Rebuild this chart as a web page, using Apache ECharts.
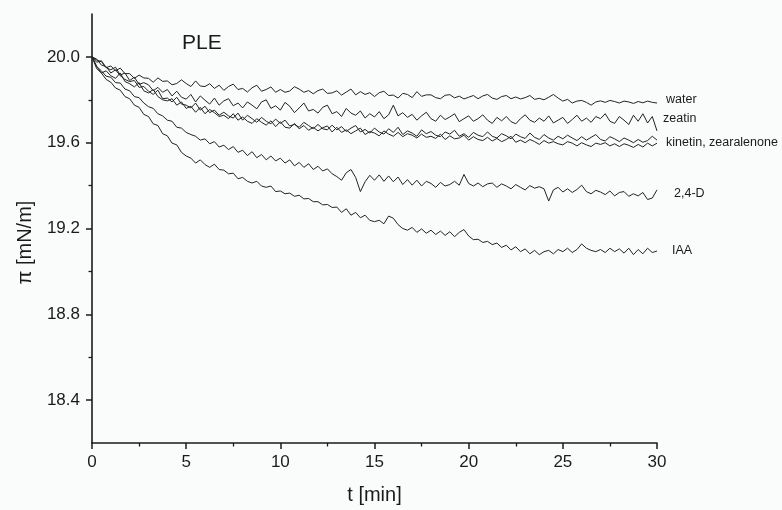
<!DOCTYPE html>
<html>
<head>
<meta charset="utf-8">
<script src="https://cdn.jsdelivr.net/npm/echarts@6/dist/echarts.min.js"></script>
<style>
html,body{margin:0;padding:0;background:#fafcfc;}
#chart{width:782px;height:510px;}
</style>
</head>
<body>
<div id="chart"></div>
<script>
// time axis (min)
const times = [0,0.25,0.5,0.75,1,1.25,1.5,1.75,2,2.25,2.5,2.75,3,3.25,3.5,3.75,4,4.25,4.5,4.75,
5,5.25,5.5,5.75,6,6.25,6.5,6.75,7,7.25,7.5,7.75,8,8.25,8.5,8.75,9,9.25,9.5,9.75,
10,10.25,10.5,10.75,11,11.25,11.5,11.75,12,12.25,12.5,12.75,13,13.25,13.5,13.75,14,14.25,14.5,14.75,
15,15.25,15.5,15.75,16,16.25,16.5,16.75,17,17.25,17.5,17.75,18,18.25,18.5,18.75,19,19.25,19.5,19.75,
20,20.25,20.5,20.75,21,21.25,21.5,21.75,22,22.25,22.5,22.75,23,23.25,23.5,23.75,24,24.25,24.5,24.75,
25,25.25,25.5,25.75,26,26.25,26.5,26.75,27,27.25,27.5,27.75,28,28.25,28.5,28.75,29,29.25,29.5,29.75,30];

const water = [20.000,19.985,19.978,19.950, 19.958,19.935,19.948,19.922, 19.922,19.900,19.915,19.902, 19.900,19.882,19.902,19.886,
19.888,19.870,19.876,19.893, 19.876,19.862,19.888,19.864, 19.862,19.875,19.853,19.868, 19.844,19.862,19.873,19.848,
19.853,19.836,19.856,19.868, 19.840,19.848,19.860,19.835, 19.848,19.835,19.841,19.861, 19.850,19.835,19.843,19.828,
19.843,19.850,19.830,19.832, 19.842,19.822,19.836,19.850, 19.823,19.838,19.825,19.833, 19.815,19.833,19.840,19.820,
19.822,19.808,19.830,19.825, 19.810,19.838,19.816,19.823, 19.823,19.810,19.805,19.821, 19.824,19.809,19.817,19.804,
19.812,19.820,19.805,19.818, 19.825,19.808,19.802,19.815, 19.820,19.805,19.813,19.804, 19.810,19.820,19.802,19.807,
19.800,19.812,19.825,19.808, 19.794,19.802,19.785,19.794, 19.797,19.788,19.775,19.790, 19.795,19.788,19.797,19.792,
19.785,19.794,19.790,19.783, 19.792,19.786,19.794,19.788, 19.785];

const zeatin = [20.000,19.975,19.982,19.950, 19.940,19.952,19.915,19.925, 19.890,19.905,19.872,19.880, 19.870,19.842,19.858,19.835,
19.848,19.818,19.840,19.812, 19.803,19.825,19.790,19.818, 19.798,19.780,19.808,19.775, 19.795,19.805,19.772,19.785,
19.762,19.790,19.775,19.758, 19.790,19.800,19.760,19.772, 19.752,19.788,19.770,19.740, 19.762,19.785,19.748,19.755,
19.738,19.765,19.775,19.735, 19.745,19.722,19.760,19.738, 19.728,19.748,19.715,19.735, 19.720,19.745,19.712,19.730,
19.775,19.725,19.740,19.718, 19.732,19.705,19.725,19.742, 19.712,19.700,19.728,19.708, 19.720,19.735,19.698,19.712,
19.725,19.700,19.712,19.730, 19.705,19.690,19.718,19.702, 19.722,19.698,19.688,19.712, 19.730,19.705,19.695,19.715,
19.700,19.725,19.692,19.705, 19.718,19.690,19.708,19.728, 19.700,19.715,19.695,19.722, 19.712,19.735,19.700,19.690,
19.722,19.705,19.685,19.728, 19.700,19.735,19.692,19.722, 19.655];

const kinetin = [20.000,19.990,19.962,19.955, 19.925,19.940,19.912,19.895, 19.885,19.890,19.858,19.862, 19.840,19.825,19.845,19.805,
19.808,19.790,19.812,19.780, 19.775,19.762,19.785,19.752, 19.770,19.740,19.752,19.728, 19.742,19.725,19.715,19.738,
19.705,19.728,19.712,19.695, 19.718,19.700,19.688,19.710, 19.690,19.705,19.678,19.685, 19.672,19.695,19.680,19.665,
19.685,19.665,19.660,19.682, 19.660,19.675,19.652,19.668, 19.680,19.650,19.662,19.645, 19.668,19.650,19.640,19.665,
19.648,19.672,19.638,19.655, 19.645,19.630,19.660,19.642, 19.652,19.635,19.628,19.650, 19.640,19.658,19.630,19.642,
19.625,19.648,19.635,19.628, 19.650,19.630,19.622,19.642, 19.632,19.618,19.640,19.628, 19.620,19.645,19.625,19.615,
19.638,19.622,19.612,19.630, 19.618,19.635,19.622,19.610, 19.628,19.612,19.625,19.638, 19.615,19.608,19.628,19.618,
19.605,19.622,19.612,19.600, 19.615,19.602,19.610,19.630, 19.612];

const zearalenone = [20.000,19.955,19.925,19.935, 19.912,19.900,19.925,19.885, 19.875,19.860,19.880,19.842, 19.832,19.848,19.815,19.800,
19.795,19.805,19.775,19.790, 19.760,19.770,19.742,19.765, 19.735,19.755,19.740,19.722, 19.728,19.712,19.735,19.705,
19.720,19.700,19.690,19.712, 19.695,19.682,19.702,19.675, 19.698,19.672,19.668,19.690, 19.665,19.680,19.658,19.672,
19.655,19.670,19.678,19.650, 19.672,19.648,19.660,19.642, 19.655,19.668,19.638,19.652, 19.645,19.632,19.655,19.640,
19.630,19.648,19.628,19.642, 19.635,19.622,19.640,19.625, 19.630,19.620,19.640,19.615, 19.632,19.618,19.622,19.635,
19.612,19.628,19.615,19.610, 19.625,19.608,19.620,19.605, 19.615,19.630,19.602,19.612, 19.600,19.615,19.605,19.592,
19.610,19.598,19.605,19.595, 19.590,19.605,19.598,19.585, 19.600,19.590,19.582,19.598, 19.592,19.600,19.585,19.595,
19.582,19.595,19.588,19.578, 19.592,19.580,19.598,19.585, 19.598];

const d24 = [20.000,19.955,19.935,19.910, 19.905,19.880,19.878,19.850, 19.842,19.815,19.810,19.785, 19.768,19.760,19.735,19.725,
19.705,19.700,19.672,19.668, 19.648,19.638,19.630,19.612, 19.618,19.595,19.605,19.580, 19.588,19.568,19.582,19.555,
19.565,19.540,19.558,19.530, 19.545,19.520,19.538,19.515, 19.528,19.505,19.520,19.492, 19.508,19.485,19.502,19.475,
19.490,19.468,19.478,19.455, 19.442,19.425,19.460,19.475, 19.438,19.372,19.418,19.448, 19.425,19.450,19.420,19.445,
19.418,19.440,19.405,19.428, 19.402,19.425,19.398,19.420, 19.410,19.392,19.415,19.398, 19.405,19.420,19.402,19.452,
19.410,19.398,19.412,19.395, 19.408,19.412,19.392,19.408, 19.398,19.385,19.405,19.392, 19.380,19.400,19.388,19.395,
19.385,19.328,19.380,19.392, 19.370,19.385,19.368,19.382, 19.402,19.372,19.362,19.378, 19.370,19.358,19.375,19.352,
19.368,19.372,19.350,19.362, 19.352,19.368,19.335,19.342, 19.380];

const iaa = [20.000,19.945,19.925,19.895, 19.882,19.855,19.845,19.815, 19.805,19.775,19.765,19.732, 19.722,19.688,19.680,19.642,
19.632,19.598,19.590,19.555, 19.538,19.528,19.505,19.520, 19.498,19.485,19.500,19.475, 19.472,19.455,19.458,19.432,
19.438,19.420,19.412,19.420, 19.398,19.392,19.398,19.372, 19.375,19.362,19.365,19.350, 19.355,19.338,19.340,19.325,
19.325,19.310,19.312,19.298, 19.300,19.275,19.292,19.262, 19.275,19.250,19.262,19.238, 19.232,19.238,19.222,19.258,
19.248,19.218,19.200,19.192, 19.205,19.182,19.198,19.178, 19.192,19.172,19.188,19.168, 19.185,19.162,19.182,19.195,
19.165,19.148,19.150,19.135, 19.140,19.125,19.132,19.112, 19.122,19.100,19.115,19.092, 19.105,19.082,19.098,19.078,
19.092,19.098,19.082,19.102, 19.092,19.108,19.088,19.102, 19.128,19.108,19.098,19.092, 19.102,19.088,19.108,19.092,
19.105,19.085,19.108,19.078, 19.102,19.082,19.108,19.088, 19.095];

const yMajorTicks = [18.4, 18.8, 19.2, 19.6, 20.0];
const yMinorTicks = [18.6, 19.0, 19.4, 19.8];
const xMajorTicks = [0, 5, 10, 15, 20, 25, 30];
const xMinorTicks = [2.5, 7.5, 12.5, 17.5, 22.5, 27.5];

const FONT = '"Liberation Sans", Arial, sans-serif';
const INK = '#1a1a1a';

function pairs(vals){ return vals.map((v,i)=>[times[i], v]); }

function mk(name, vals, label, off, dist){
  const s = {
    name: name, type: 'line', data: pairs(vals), showSymbol: false, symbol: 'none',
    lineStyle: {color: '#222', width: 1}, xAxisIndex: 0, yAxisIndex: 0,
    emphasis: {disabled: true}, silent: true
  };
  if (label) {
    s.endLabel = {show: true, formatter: label, offset: off, distance: dist,
      color: INK, fontFamily: FONT, fontSize: 12.5};
  }
  return s;
}

const chart = echarts.init(document.getElementById('chart'), null, {renderer: 'canvas'});
chart.setOption({
  backgroundColor: '#fafcfc',
  animation: false,
  title: {text: 'PLE', left: 177, top: 28,
    textStyle: {fontFamily: FONT, fontSize: 21, fontWeight: 'normal', color: INK}},
  grid: {left: 92, right: 125, top: 14, bottom: 65},
  xAxis: [{
    type: 'value', min: 0, max: 30,
    name: 't [min]', nameLocation: 'middle', nameGap: 42,
    nameTextStyle: {fontFamily: FONT, fontSize: 20, color: INK},
    axisLine: {lineStyle: {color: INK, width: 1.6}},
    axisTick: {customValues: xMajorTicks, length: 6, lineStyle: {color: INK, width: 1.5}},
    axisLabel: {customValues: xMajorTicks, margin: 11, fontFamily: FONT, fontSize: 17, color: INK},
    splitLine: {show: false}
  }, {
    type: 'value', min: 0, max: 30, position: 'bottom',
    axisLine: {show: false},
    axisTick: {customValues: xMinorTicks, length: 3.5, lineStyle: {color: INK, width: 1.3}},
    axisLabel: {show: false}, splitLine: {show: false}
  }],
  yAxis: [{
    type: 'value', min: 18.2, max: 20.2,
    name: 'π [mN/m]', nameLocation: 'middle', nameGap: 57, nameRotate: 90,
    nameTextStyle: {fontFamily: FONT, fontSize: 20, color: INK, padding: [0, 28, 0, 0]},
    axisLine: {show: true, lineStyle: {color: INK, width: 1.6}},
    axisTick: {show: true, customValues: yMajorTicks, length: 6, lineStyle: {color: INK, width: 1.5}},
    axisLabel: {customValues: yMajorTicks, margin: 12, fontFamily: FONT, fontSize: 17, color: INK,
      formatter: v => v.toFixed(1)},
    splitLine: {show: false}
  }, {
    type: 'value', min: 18.2, max: 20.2, position: 'left',
    axisLine: {show: false},
    axisTick: {show: true, customValues: yMinorTicks, length: 3.5, lineStyle: {color: INK, width: 1.3}},
    axisLabel: {show: false}, splitLine: {show: false}
  }],
  series: [
    mk('water', water, 'water', [0, -3], 9),
    mk('zeatin', zeatin, 'zeatin', [0, -12], 6),
    mk('kinetin', kinetin, 'kinetin, zearalenone', [0, 2], 9),
    mk('zearalenone', zearalenone, null),
    mk('2,4-D', d24, '2,4-D', [0, 4], 17),
    mk('IAA', iaa, 'IAA', [0, 0], 15)
  ]
});
</script>
</body>
</html>
